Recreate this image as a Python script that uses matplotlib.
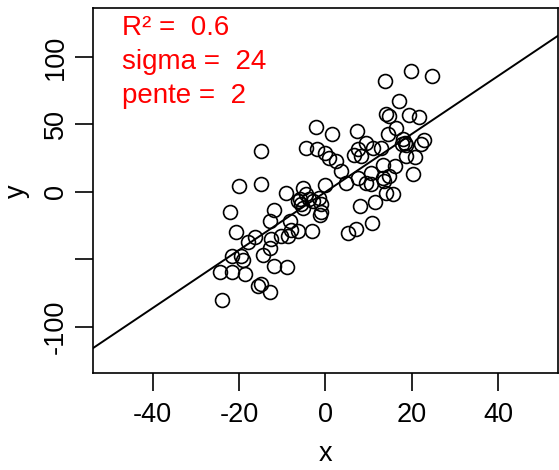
import matplotlib
matplotlib.use("Agg")
import matplotlib.pyplot as plt

# points
x = [19.8, 24.6, 13.8, 16.9, 14.0, 14.6, 19.4, 21.7, 16.3, -2.3,
     1.4, 7.2, -14.9, 14.4, 17.9, 18.3, 18.7, 17.7, 22.9, 22.1,
     9.4, 7.5, 6.5, 8.2, 10.9, 12.9, -4.6, -2.0, -0.2, 0.8,
     2.5, 3.6, 18.7, 20.6, 13.3, 16.0, 20.2, 10.6, 7.5, 9.4,
     10.6, 13.3, 14.6, 13.6, 4.8, -0.2, -5.1, -4.5, -6.0, -3.7,
     -5.6, -5.1, -1.4, -1.0, -1.0, -1.2, -9.2, -20.0, -15.0, 14.0,
     15.6, 11.5, 7.9, -22.0, -11.8, -12.9, -8.3, -7.9, -6.4, -8.7,
     -10.3, -3.1, -20.8, -16.3, -18.0, -12.5, 10.8, 7.1, 5.2, -12.9,
     -14.5, -21.7, -19.5, -19.0, -11.8, -8.9, -24.4, -21.6, -18.7, -15.6,
     -15.0, -12.9, -23.9, -6.4, -2.9]
y = [89.4, 85.7, 82.0, 67.7, 57.4, 56.1, 56.9, 55.4, 47.5, 48.0,
     42.6, 45.1, 30.3, 42.6, 38.9, 36.4, 34.7, 35.7, 38.2, 35.2,
     36.4, 31.5, 27.3, 26.6, 32.7, 32.7, 32.7, 31.5, 29.0, 25.4,
     22.9, 15.5, 26.6, 25.8, 19.7, 19.2, 13.0, 14.3, 10.6, 6.9,
     6.2, 10.1, 11.8, 8.1, 6.9, 4.9, 3.2, -1.7, -5.4, -5.4,
     -9.1, -12.1, -4.7, -9.1, -14.8, -17.0, -0.5, 4.4, 6.2, -0.5,
     -1.2, -7.4, -10.3, -14.8, -13.5, -21.4, -21.4, -28.3, -28.8, -32.5,
     -32.5, -28.8, -29.3, -33.2, -37.2, -34.5, -23.1, -27.6, -30.5, -41.6,
     -46.8, -47.5, -47.3, -50.7, -54.9, -55.6, -59.6, -59.6, -61.1, -69.4,
     -68.4, -73.9, -79.8, -6.6, -6.6]

intercept = 0.0
slope = 2.15

stats_lines = ["R\u00b2 =  0.6", "sigma =  24", "pente =  2"]

xticks = [-40, -20, 0, 20, 40]
yticks = [-100, -50, 0, 50, 100]
ytick_labels = ["-100", "", "0", "50", "100"]

plt.rcParams["font.family"] = ["Liberation Sans", "DejaVu Sans"]
plt.rcParams["axes.unicode_minus"] = False

fig = plt.figure(figsize=(5.59, 4.70), dpi=100)
ax = fig.add_axes([0.1655, 0.2057, 0.832, 0.7767])

ax.plot(x, y, "o", mfc="none", mec="black", ms=10, mew=1.2)
ax.axline((0, intercept), slope=slope, color="black", lw=1.4)

ax.set_xlim(-53.9, 53.7)
ax.set_ylim(-134.3, 136.0)

ax.set_xticks(xticks)
ax.set_xticklabels([str(t) for t in xticks])
ax.set_yticks(yticks)
ax.set_yticklabels(ytick_labels, rotation=90, va="center")

ax.tick_params(axis="both", direction="out", length=13, width=1.2,
               labelsize=19.5, pad=8)
ax.tick_params(axis="y", pad=4)
for s in ax.spines.values():
    s.set_linewidth(1.2)

ax.set_xlabel("x", fontsize=19.5, labelpad=9)
ax.set_ylabel("y", fontsize=19.5, labelpad=9)

for yf, line in zip([0.927, 0.834, 0.741], stats_lines):
    ax.text(0.063, yf, line, transform=ax.transAxes, color="red",
            fontsize=20, ha="left", va="baseline")

fig.savefig("out.png", dpi=100)
